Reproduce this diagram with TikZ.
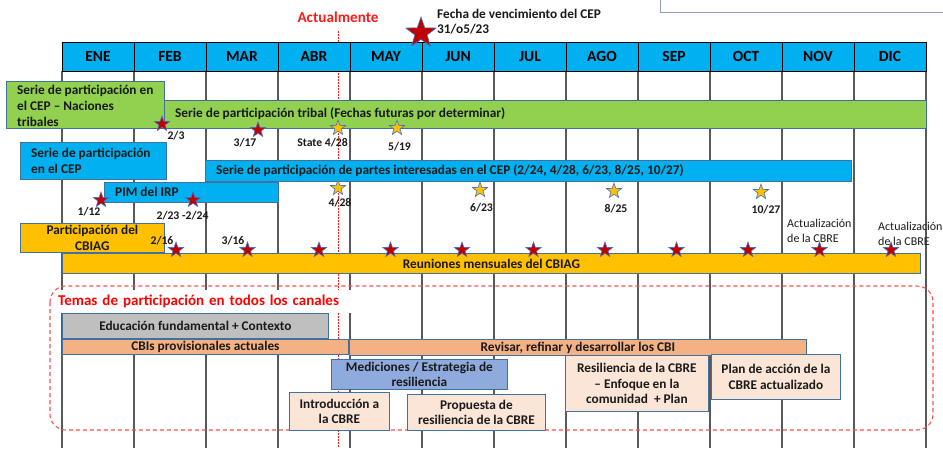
\documentclass[tikz,border=0pt]{standalone}
\usepackage{fontspec}
\setmainfont{Carlito}
\usetikzlibrary{shapes.geometric}
\definecolor{hdrblue}{HTML}{00B0F0}
\definecolor{tgreen}{HTML}{92D050}
\definecolor{tyellow}{HTML}{FFC000}
\definecolor{tgray}{HTML}{BFBFBF}
\definecolor{torange}{HTML}{F4B183}
\definecolor{tmblue}{HTML}{8FAADC}
\definecolor{tpeach}{HTML}{FBE5D6}
\definecolor{bord}{HTML}{41719C}
\definecolor{starred}{HTML}{C00000}
\definecolor{starbord}{HTML}{4472C4}
\definecolor{gridgray}{HTML}{595959}
\definecolor{txt}{HTML}{1A1A1A}
\definecolor{dashred}{HTML}{FF4F4F}
\definecolor{topbord}{HTML}{8EA0C0}
\definecolor{nowred}{HTML}{FF1A1A}
\tikzset{
 gridline/.style={draw=gridgray, line width=1.1pt},
 hdrcell/.style={draw=black, line width=0.9pt, fill=hdrblue, minimum width=72pt, minimum height=29pt, inner sep=0pt, font=\bfseries\fontsize{15.5}{17}\selectfont, text=black},
 tbox/.style={draw=bord, line width=0.8pt, inner sep=0pt, anchor=north west},
 btext/.style={font=\bfseries\fontsize{13.3}{16}\selectfont, text=txt, inner sep=0pt},
 cbox/.style={tbox, align=center, font=\bfseries\fontsize{13.3}{15.5}\selectfont, text=txt},
 rstar/.style={star, star points=5, star point ratio=2.5, minimum size=16pt, inner sep=0pt, fill=starred, draw=starbord, line width=0.6pt},
 ystar/.style={rstar, fill=tyellow},
 dlabel/.style={font=\bfseries\fontsize{11.7}{13}\selectfont, text=txt, inner sep=0pt},
 alabel/.style={font=\fontsize{12}{14.5}\selectfont, text=txt, inner sep=0pt, align=left, anchor=west},
}
\begin{document}
\begin{tikzpicture}[x=1pt,y=-1pt]
\useasboundingbox (0,0) rectangle (943,448);
\fill[white] (0,0) rectangle (943,448);
% top right box (cut off)
\draw[topbord, line width=1pt, fill=white] (660,-6) rectangle (952,12);
% grid
\foreach \i in {0,...,12} \draw[gridline] ({62+72*\i},71) -- ({62+72*\i},448);
% "now" line
\node[font=\bfseries\fontsize{15.2}{17}\selectfont, text=nowred, inner sep=0pt] (actual) at (338,17) {Actualmente};
\coordinate (nowtop) at (338,31);
\coordinate (nowbot) at (338,448);
\draw[nowred, line width=1pt, dash pattern=on 1.5pt off 1.5pt] (nowtop) -- (nowbot);
% header
\foreach \m [count=\i from 0] in {ENE,FEB,MAR,ABR,MAY,JUN,JUL,AGO,SEP,OCT,NOV,DIC}
  \node[hdrcell] (h\m) at ({98+72*\i},56.5) {\m};
% due date
\node[rstar, minimum size=32pt] (due) at (421,33) {};
\node[font=\bfseries\fontsize{13.3}{15.5}\selectfont, text=txt, inner sep=0pt, align=left, anchor=west] (duetxt) at (437,21.5) {Fecha de vencimiento del CEP\\31/o5/23};
% row 1
\node[tbox, fill=tgreen, minimum width=762pt, minimum height=28pt] (tribalbar) at (164,100) {};
\node[btext, anchor=west] (tribaltxt) at (175,114) {Serie de participación tribal (Fechas futuras por determinar)};
\node[tbox, fill=tgreen, minimum width=158pt, minimum height=47pt] (tribalbox) at (6,81) {};
\node[btext, anchor=west, align=left] (tribalboxtxt) at (17,106) {Serie de participación en\\el CEP – Naciones\\tribales};
% row 2
\node[tbox, fill=hdrblue, minimum width=146pt, minimum height=37pt] (cepbox) at (20,142) {};
\node[btext, anchor=west, align=left] (cepboxtxt) at (31,161) {Serie de participación\\en el CEP};
\node[tbox, fill=hdrblue, minimum width=646pt, minimum height=21pt] (cepbar) at (205,160) {};
\node[btext, anchor=west] (cepbartxt) at (216,170.5) {Serie de participación de partes interesadas en el CEP (2/24, 4/28, 6/23, 8/25, 10/27)};
\node[tbox, fill=hdrblue, minimum width=174pt, minimum height=20pt] (pimbox) at (104,182) {};
\node[btext, anchor=west] (pimtxt) at (115,192) {PIM del IRP};
% row 3
\node[cbox, fill=tyellow, minimum width=144pt, minimum height=29pt] (cbiagbox) at (20,223) {Participación del\\CBIAG};
\node[cbox, fill=tyellow, minimum width=858pt, minimum height=20pt] (cbiagbar) at (62,253) {Reuniones mensuales del CBIAG};
% themes region
\node[fill=white, inner xsep=3pt, inner ysep=0pt, minimum height=23pt, text width=296pt, align=left, anchor=west, font=\bfseries\fontsize{15}{17}\selectfont, text=red] (temas) at (55,301.5) {Temas de participación en todos los canales};
\draw[dashred, line width=1.1pt, dash pattern=on 4pt off 3pt, rounded corners=16pt] (50,286) rectangle (933,430);
\node[cbox, fill=tgray, minimum width=266pt, minimum height=25pt] (educ) at (62,313) {Educación fundamental + Contexto};
\node[cbox, fill=torange, minimum width=286pt, minimum height=15pt] (cbis) at (62,339) {CBIs provisionales actuales};
\node[cbox, fill=torange, minimum width=457pt, minimum height=16pt] (revisar) at (349,339) {Revisar, refinar y desarrollar los CBI};
\node[cbox, fill=tmblue, minimum width=176pt, minimum height=30pt] (medic) at (331,359) {Mediciones / Estrategia de\\resiliencia};
\node[cbox, fill=tpeach, minimum width=100pt, minimum height=38pt] (intro) at (289,392) {Introducción a\\la CBRE};
\node[cbox, fill=tpeach, minimum width=138pt, minimum height=36pt] (prop) at (407,394) {Propuesta de\\resiliencia de la CBRE};
\node[cbox, fill=tpeach, minimum width=143pt, minimum height=56pt] (resil) at (565,355) {Resiliencia de la CBRE\\– Enfoque en la\\comunidad\ \ + Plan};
\node[cbox, fill=tpeach, minimum width=129pt, minimum height=45pt] (plan) at (711,354) {Plan de acción de la\\CBRE actualizado};
% row 1 stars
\node[rstar] (s1a) at (162,124) {};
\node[rstar] (s1b) at (258,130) {};
\node[ystar] (s1c) at (338,128) {};
\node[ystar] (s1d) at (397,128) {};
\node[dlabel] (l1a) at (176,136) {2/3};
\node[dlabel] (l1b) at (245,143) {3/17};
\node[dlabel] (l1c) at (322.5,143) {State 4/28};
\node[dlabel] (l1d) at (399.5,147) {5/19};
% row 2 stars
\node[rstar] (s2a) at (101,200) {};
\node[rstar] (s2b) at (193,200) {};
\node[ystar] (s2c) at (338,188) {};
\node[ystar] (s2d) at (480,190) {};
\node[ystar] (s2e) at (614,191) {};
\node[ystar] (s2f) at (761,192) {};
\node[dlabel] (l2a) at (89,212) {1/12};
\node[dlabel] (l2b) at (182.5,216) {2/23 -2/24};
\node[dlabel] (l2c) at (340,203) {4/28};
\node[dlabel] (l2d) at (481.5,208) {6/23};
\node[dlabel] (l2e) at (616,209) {8/25};
\node[dlabel] (l2f) at (766,210) {10/27};
% row 3 stars
\foreach \k in {0,...,10} \node[rstar] (s3\k) at ({176+71.5*\k},250) {};
\node[dlabel] (l3a) at (162,241) {2/16};
\node[dlabel] (l3b) at (233,241) {3/16};
\node[alabel] (l3c) at (787,231) {Actualización\\de la CBRE};
\node[alabel] (l3d) at (878,234) {Actualización\\de la CBRE};
\end{tikzpicture}
\end{document}
